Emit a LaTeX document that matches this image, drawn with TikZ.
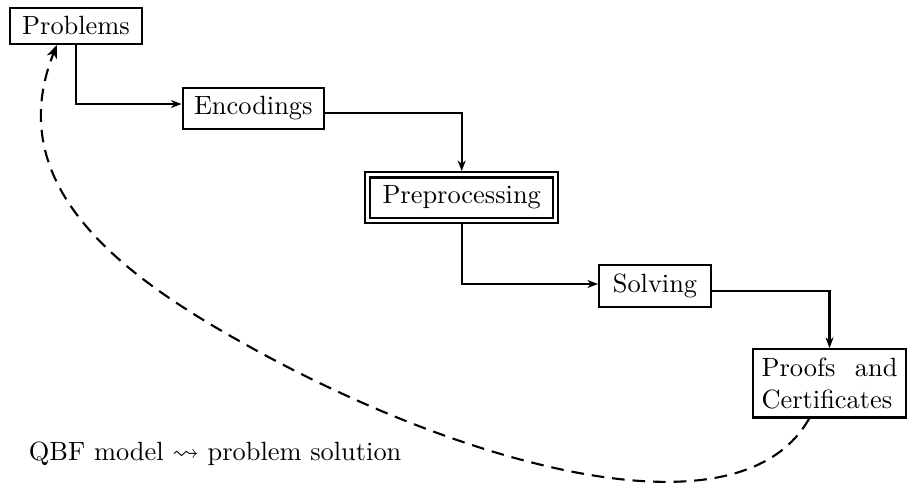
\documentclass[tikz,border=0pt]{standalone}
\usepackage{amssymb}
\usetikzlibrary{arrows.meta,calc}
\begin{document}
\begin{tikzpicture}[x=0.379pt,y=-0.379pt,
  box/.style={draw,thick,rectangle,inner sep=3.33pt},
  flow/.style={thick,-{Stealth[length=4pt,width=3pt,inset=1.2pt]}},
  back/.style={thick,dash pattern=on 4.8pt off 3pt,-{Stealth[length=5pt,width=4pt,inset=1.5pt]}}]
\useasboundingbox (0,0) rectangle (909,485);
\node[box,minimum width=49.8pt,minimum height=13.3pt] (prob) at (76,25.8) {Problems};
\node[box,minimum width=53.6pt,minimum height=15pt] (enc) at (253.3,108.5) {Encodings};
\node[box,double,double distance=1.2pt,outer sep=1.4pt,minimum width=71.2pt,minimum height=17.2pt] (pre) at (461.7,197.5) {Preprocessing};
\node[box,minimum width=42.4pt,minimum height=15.3pt] (solv) at (655,286.2) {Solving};
\node[box,text width=51.5pt,align=justify,minimum height=25.3pt] (proof) at (829.5,383.3) {Proofs and Certificates};
\node[anchor=base west,inner sep=0pt] (lbl) at (28.3,460) {QBF model $\leadsto$ problem solution};
\draw[flow] (prob.south) |- ($(enc.west)+(0,-4.5)$);
\draw[flow] ($(enc.east)+(0,4.2)$) -| (pre.north);
\draw[flow] (pre.south) |- ($(solv.west)+(0,-2.2)$);
\draw[flow] ($(solv.east)+(0,4.5)$) -| (proof.north);
\coordinate (m) at (261,353);
\draw[back] (proof.240) .. controls (740,541) and (472,467.5) .. (m) .. controls (138,286) and (-2.8,194) .. (prob.225);
\end{tikzpicture}
\end{document}
